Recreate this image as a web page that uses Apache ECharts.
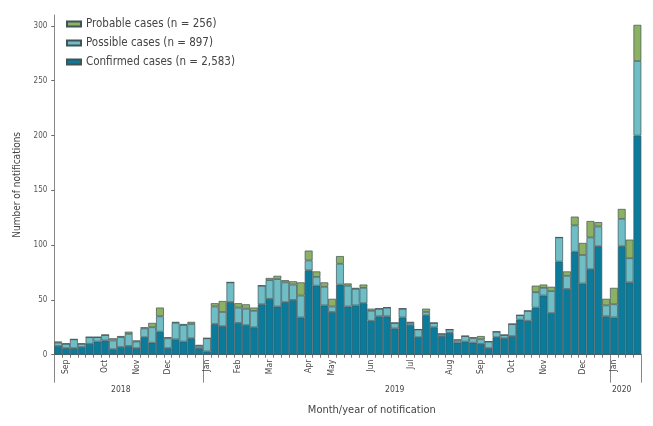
<!DOCTYPE html>
<html><head><meta charset="utf-8">
<script src="https://cdn.jsdelivr.net/npm/echarts@6/dist/echarts.min.js"></script>
<style>html,body{margin:0;padding:0;background:#fff}#c{width:653px;height:426px}</style>
</head><body><div id="c"></div>
<script>
const weeks = [
 '2018-W34','2018-W35','2018-W36','2018-W37','2018-W38','2018-W39','2018-W40','2018-W41','2018-W42','2018-W43',
 '2018-W44','2018-W45','2018-W46','2018-W47','2018-W48','2018-W49','2018-W50','2018-W51','2018-W52',
 '2019-W01','2019-W02','2019-W03','2019-W04','2019-W05','2019-W06','2019-W07','2019-W08','2019-W09','2019-W10',
 '2019-W11','2019-W12','2019-W13','2019-W14','2019-W15','2019-W16','2019-W17','2019-W18','2019-W19','2019-W20',
 '2019-W21','2019-W22','2019-W23','2019-W24','2019-W25','2019-W26','2019-W27','2019-W28','2019-W29','2019-W30',
 '2019-W31','2019-W32','2019-W33','2019-W34','2019-W35','2019-W36','2019-W37','2019-W38','2019-W39','2019-W40',
 '2019-W41','2019-W42','2019-W43','2019-W44','2019-W45','2019-W46','2019-W47','2019-W48','2019-W49','2019-W50',
 '2019-W51','2019-W52',
 '2020-W01','2020-W02','2020-W03','2020-W04'
];
const confirmed = [
 8,6,6,7,10,12,13,5,7,8,
 6,16,11,21,6,14,12,15,6,3,
 28,26,48,29,27,25,46,51,44,48,
 50,34,77,63,45,39,64,44,45,47,
 31,35,35,24,34,27,16,36,25,17,
 20,11,12,11,10,6,16,15,17,32,
 31,43,54,38,85,60,94,65,78,99,
 35,34,99,66,200
];
const possible = [
 3,4,8,3,6,4,5,8,9,11,
 6,8,14,14,9,15,15,13,2,12,
 16,13,18,14,15,15,17,17,25,18,
 14,20,9,8,17,5,19,19,15,14,
 9,7,8,5,8,2,7,3,4,2,
 3,2,5,4,4,6,5,3,11,4,
 9,14,7,20,22,12,24,26,29,18,
 10,12,25,22,68
];
const probable = [
 1,0,0,0,0,0,0,2,1,2,
 1,1,4,8,1,1,1,2,1,0,
 3,10,0,4,4,3,0,2,3,2,
 3,12,9,5,4,7,7,2,1,3,
 2,0,0,0,0,1,0,3,0,0,
 0,1,0,1,3,0,0,0,0,0,
 0,6,3,4,0,4,8,11,15,4,
 6,15,9,17,33
];
const monthTickIndex = [1,6,10,14,19,23,27,32,35,40,45,50,54,58,62,67,71];
const monthTickLabel = ['Sep','Oct','Nov','Dec','Jan','Feb','Mar','Apr','May','Jun','Jul','Aug','Sep','Oct','Nov','Dec','Jan'];
const yearBoundaryIndex = [0,19,71];
const yearLabelIndex = [8,43,72];
const yearLabel = ['2018','2019','2020'];
const yTicks = [0,50,100,150,200,250,300];
const seriesNames = ['Confirmed cases (n = 2,583)','Possible cases (n = 897)','Probable cases (n = 256)'];
const colors = ['#0b7b9b','#6fbec6','#8cb163'];

const FONT = '"Liberation Sans Narrow","DejaVu Sans Condensed","Roboto",sans-serif';
const chart = echarts.init(document.getElementById('c'), null, {renderer:'canvas'});
const values = [confirmed, possible, probable];
chart.setOption({
  animation:false,
  backgroundColor:'#fff',
  textStyle:{fontFamily:FONT},
  grid:{left:54.3, right:11.7, top:15, bottom:71.3, outerBoundsMode:'none'},
  legend:{
    orient:'vertical', left:66, top:18, padding:0, itemWidth:14, itemHeight:5, itemGap:7,
    data:[seriesNames[2], seriesNames[1], seriesNames[0]],
    textStyle:{fontSize:11.5, color:'#444', fontFamily:FONT, lineHeight:12},
    icon:'rect'
  },
  xAxis:[{
    type:'category', data:weeks, boundaryGap:true,
    axisLine:{lineStyle:{color:'#777', width:1}},
    axisTick:{show:true, interval:0, length:3, lineStyle:{color:'#555', width:0.8}},
    axisLabel:{
      interval:function(i){return monthTickIndex.indexOf(i) >= 0;},
      formatter:function(v,i){const k = monthTickIndex.indexOf(i); return k >= 0 ? monthTickLabel[k] : '';},
      rotate:90, margin:5, fontSize:8.5, color:'#444', fontFamily:FONT
    },
    name:'Month/year of notification', nameLocation:'middle', nameGap:50,
    nameTextStyle:{fontSize:11, color:'#444', fontFamily:FONT, padding:[0,0,0,48]}
  },{
    type:'category', data:weeks, boundaryGap:true, position:'bottom',
    axisLine:{show:false},
    axisTick:{show:true, interval:function(i){return yearBoundaryIndex.indexOf(i) >= 0;}, length:28, lineStyle:{color:'#888', width:1}},
    axisLabel:{
      interval:function(i){return yearLabelIndex.indexOf(i) >= 0;},
      formatter:function(v,i){const k = yearLabelIndex.indexOf(i); return k >= 0 ? yearLabel[k] : '';},
      margin:31, fontSize:8.5, color:'#444', fontFamily:FONT
    }
  }],
  yAxis:{
    type:'value', min:0, max:310, interval:50,
    axisLine:{show:true, lineStyle:{color:'#888', width:1}},
    axisTick:{show:true, length:3, customValues:yTicks, lineStyle:{color:'#666'}},
    axisLabel:{customValues:yTicks, fontSize:8, color:'#555', margin:7, fontFamily:FONT},
    splitLine:{show:false},
    name:'Number of notifications', nameLocation:'middle', nameGap:32,
    nameTextStyle:{fontSize:10, color:'#444', fontFamily:FONT}
  },
  series: seriesNames.map(function(n, s){
    return {
      name:n, type:'bar', stack:'cases', xAxisIndex:0, barCategoryGap:'0%',
      data: values[s],
      itemStyle:{color:colors[s], borderColor:'#3f5358', borderWidth:0.7},
      emphasis:{disabled:true}
    };
  })
});
</script>
</body></html>
